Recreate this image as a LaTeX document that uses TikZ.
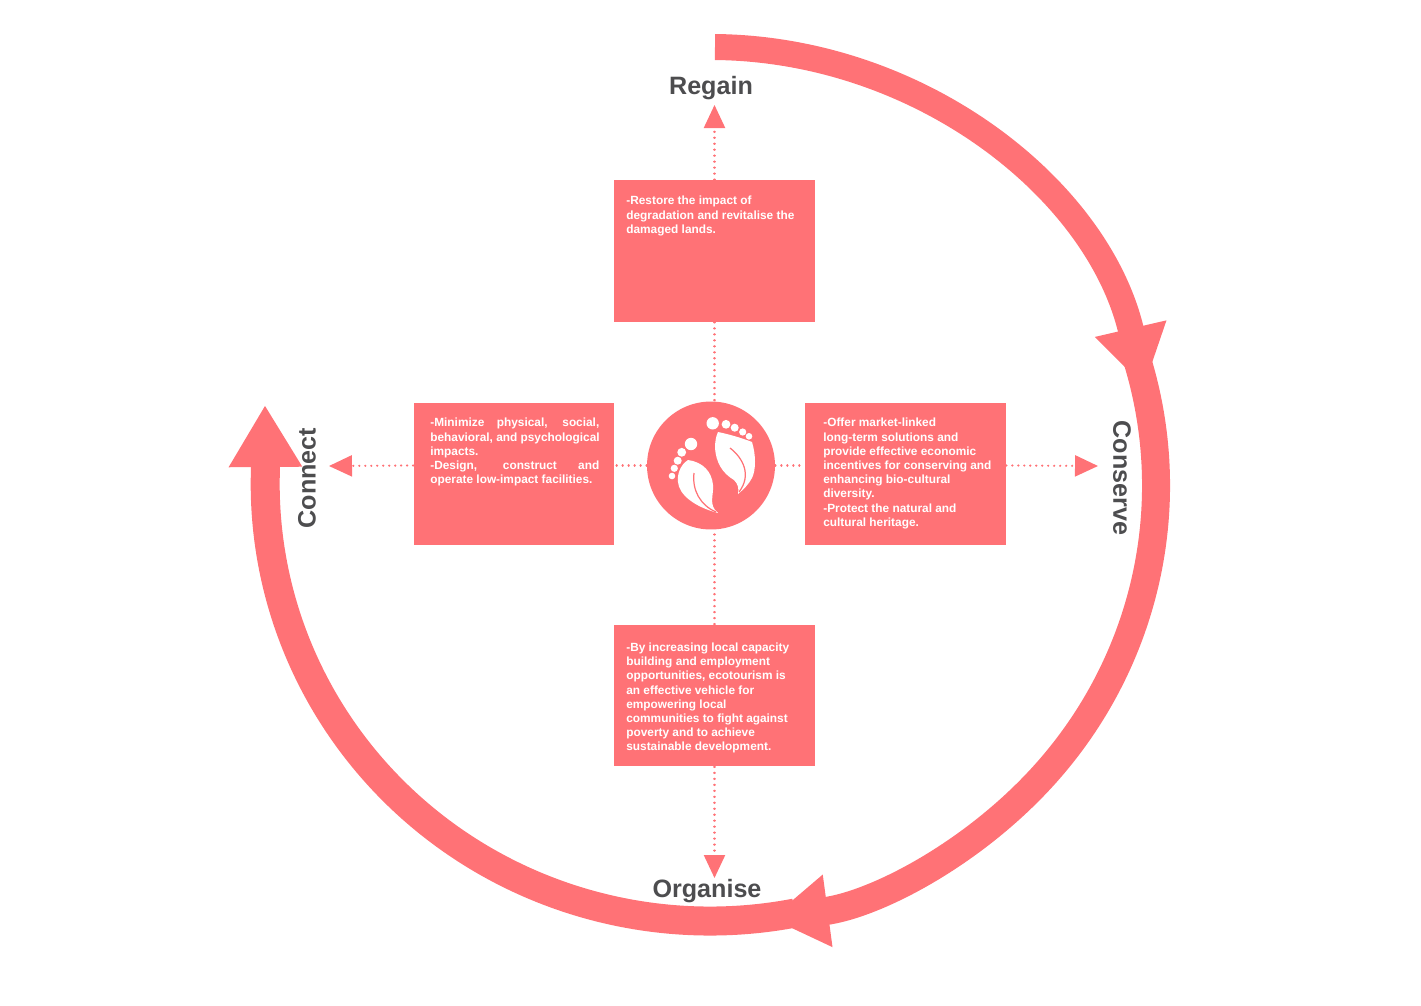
\documentclass[tikz,border=0pt]{standalone}
\usepackage{fontspec}
\setmainfont{Liberation Sans}
\usepackage{tikz}
\usetikzlibrary{arrows.meta,positioning,calc}
\usepackage{xcolor}
\definecolor{coral}{HTML}{FF7276}
\definecolor{labelgray}{HTML}{4D4D4F}
\newcommand{\fitline}[1]{\makebox[3.38cm][s]{#1}}
\tikzset{
  textbox/.style={draw=none, rectangle, fill=coral, minimum width=4.02cm, minimum height=2.84cm, inner sep=0pt},
  boxtext/.style={anchor=north west, inner sep=0pt, text=white, align=left, font=\fontsize{6.75}{8.08}\selectfont\bfseries},
  phase/.style={text=labelgray, inner sep=0pt, font=\fontsize{14.3}{16}\selectfont\bfseries},
  hub/.style={circle, fill=coral, minimum size=2.56cm, inner sep=0pt},
  link/.style={coral, line width=1.3pt, line cap=round, dash pattern=on 0.1pt off 3.3pt},
  linkarr/.style={link, -{Triangle[length=0.46cm, width=0.42cm, sep=0pt]}},
  ring/.style={coral, line width=0.58cm},
}

\begin{document}
\begin{tikzpicture}[x=0.02cm, y=-0.02cm]
\useasboundingbox (0,0) rectangle (1421,1005);
\node[hub] (center) at (711,465.5) {};
\node[textbox] (regainbox) at (714.5,251) {};
\node[textbox] (connectbox) at (514,474) {};
\node[textbox] (conservebox) at (905.5,474) {};
\node[textbox] (organisebox) at (714.5,695.5) {};
\node[boxtext] (regaintext) at (626,196) {-Restore the impact of\\degradation and revitalise the\\damaged lands.};
\node[boxtext] (connecttext) at (430,418) {\fitline{-Minimize physical, social,}\\behavioral, and psychological\\impacts.\\\fitline{-Design, construct and}\\operate low-impact facilities.};
\node[boxtext] (conservetext) at (823,418) {-Offer market-linked\\long-term solutions and\\provide effective economic\\incentives for conserving and\\enhancing bio-cultural\\diversity.\\-Protect the natural and\\cultural heritage.};
\node[boxtext] (organisetext) at (626,642.5) {-By increasing local capacity\\building and employment\\opportunities, ecotourism is\\an effective vehicle for\\empowering local\\communities to fight against\\poverty and to achieve\\sustainable development.};
\node[phase] (regain) at (711,88) {Regain};
\node[phase] (organise) at (707,891) {Organise};
\node[phase, rotate=-90] (conserve) at (1122,478) {Conserve};
\node[phase, rotate=90] (connect) at (307,478) {Connect};
% dotted links
\coordinate (regaintip) at (714.5,105);
\coordinate (organisetip) at (714.5,878);
\coordinate (conservetip) at (1098,466);
\coordinate (connecttip) at (329,466);
\draw[link] (regainbox.south) -- (regainbox.south |- center.north);
\draw[link] (organisebox.north) -- (organisebox.north |- center.south);
\draw[link] (center.west) -- (connectbox.east |- center);
\draw[link] (center.east) -- (conservebox.west |- center);
\draw[linkarr] (regainbox.north) -- (regaintip);
\draw[linkarr] (organisebox.south) -- (organisetip);
\draw[linkarr] (conservebox.east |- center) -- (conservetip);
\draw[linkarr] (connectbox.west |- center) -- (connecttip);
% big ring
\coordinate (ringtop) at (715,47);
\coordinate (ringright) at (1133,347);
\coordinate (ringbottom) at (795,913);
\coordinate (ringtip) at (265,405);
\draw[ring, line width=0.52cm, -{Triangle[length=1.2cm, width=1.38cm]}] (ringtop) arc[start angle=89.4, end angle=12.8, x radius=8.9cm, y radius=8.74cm];
\draw[ring, line width=0.56cm, -{Triangle[length=1.15cm, width=1.38cm]}] (ringright) arc[start angle=18.5, end angle=-82.2, x radius=8.92cm, y radius=8.74cm];
\draw[ring, -{Triangle[length=1.24cm, width=1.38cm]}] (ringbottom) arc[start angle=-79, end angle=-182, x radius=8.9cm, y radius=8.74cm] -- (ringtip);
% feet
\fill[white] (691,444) circle (6.2) (681.7,452.3) circle (4.4) (677.7,460.7) circle (4) (674.3,468.3) circle (3.6) (672,476) circle (3.3);
\fill[white] (712.7,423.3) circle (6.2) (726,424.3) circle (4.4) (734.7,427.7) circle (4) (742.7,432) circle (3.6) (749,436.3) circle (3.3);
\fill[white] (688,460) .. controls (680,465) and (677,475) .. (678,482) .. controls (679,495) and (695,507) .. (718,513) .. controls (708,505) and (714,495) .. (713,485) .. controls (712,472) and (703,462) .. (688,460) -- cycle;
\fill[white] (718,432) .. controls (728,434) and (742,438) .. (752,442) .. controls (756,455) and (756,470) .. (752,478) .. controls (749,484) and (743,490) .. (738,494) .. controls (739,488) and (738,484) .. (734,480) .. controls (722,473) and (716,462) .. (715,448) .. controls (715,442) and (716,436) .. (718,432) -- cycle;
\draw[coral, line width=0.7pt] (694,473) .. controls (692,490) and (700,505) .. (716,512);
\draw[coral, line width=0.7pt] (730,448) .. controls (743,458) and (752,475) .. (739,492);
\end{tikzpicture}
\end{document}
